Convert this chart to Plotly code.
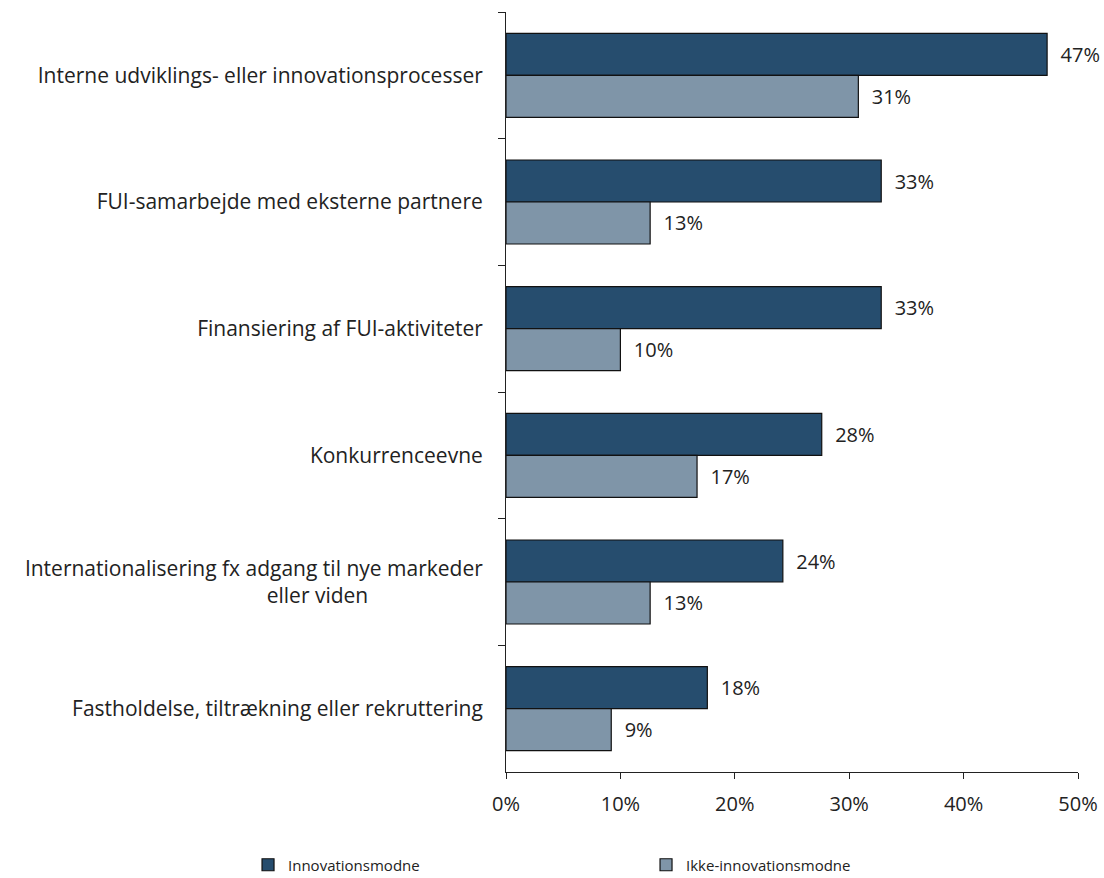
import plotly.graph_objects as go

NB = "\u00a0"
categories = [
    "Interne udviklings- eller innovationsprocesser",
    "FUI-samarbejde med eksterne partnere",
    "Finansiering af FUI-aktiviteter",
    "Konkurrenceevne",
    "Internationalisering fx adgang til nye markeder<br>eller viden" + NB * 21,
    "Fastholdelse, tiltrækning eller rekruttering",
]
innovationsmodne = [0.473, 0.328, 0.328, 0.276, 0.242, 0.176]
ikke_innovationsmodne = [0.308, 0.126, 0.100, 0.167, 0.126, 0.092]
series_names = ["Innovationsmodne", "Ikke-innovationsmodne"]
colors = ["#264D6E", "#7F95A8"]

FONT = "Open Sans"
TXT = "#222222"

fig = go.Figure()
for name, vals, col in zip(series_names, [innovationsmodne, ikke_innovationsmodne], colors):
    fig.add_trace(go.Bar(
        y=categories, x=vals, name=name, orientation="h",
        marker=dict(color=col, line=dict(color="#111111", width=1.2)),
        text=[NB * 2 + f"{round(v*100):.0f}%" for v in vals],
        textposition="outside", cliponaxis=False, constraintext="none",
        textfont=dict(family=FONT, size=20, color=TXT),
    ))

fig.update_layout(
    width=1104, height=900,
    barmode="group", bargap=0.337, bargroupgap=0,
    plot_bgcolor="white", paper_bgcolor="white",
    margin=dict(l=506, r=26, t=12, b=128),
    font=dict(family=FONT, size=20, color=TXT),
    showlegend=True,
    legend=dict(orientation="h", x=-0.451, y=-0.1224, xanchor="left", yanchor="middle",
                entrywidth=353, entrywidthmode="pixels",
                font=dict(family=FONT, size=15, color=TXT),
                traceorder="normal"),
)
fig.update_xaxes(range=[0, 0.5], dtick=0.1, tickformat=".0%", showgrid=False,
                 zeroline=False, showline=True, linecolor=TXT, linewidth=1,
                 ticks="outside", ticklen=6, tickcolor=TXT, ticklabelstandoff=8,
                 automargin=False,
                 tickfont=dict(family=FONT, size=20, color=TXT))
fig.update_yaxes(autorange="reversed", showgrid=False, showline=True,
                 linecolor=TXT, linewidth=1, ticks="outside", ticklen=7,
                 tickcolor=TXT, tickson="boundaries", ticklabelstandoff=18,
                 automargin=False,
                 tickfont=dict(family=FONT, size=21, color=TXT))

fig.write_html(
    "out.html",
    config={"displayModeBar": False},
    post_script="document.body.style.margin='0';document.body.style.overflow='hidden';",
)
